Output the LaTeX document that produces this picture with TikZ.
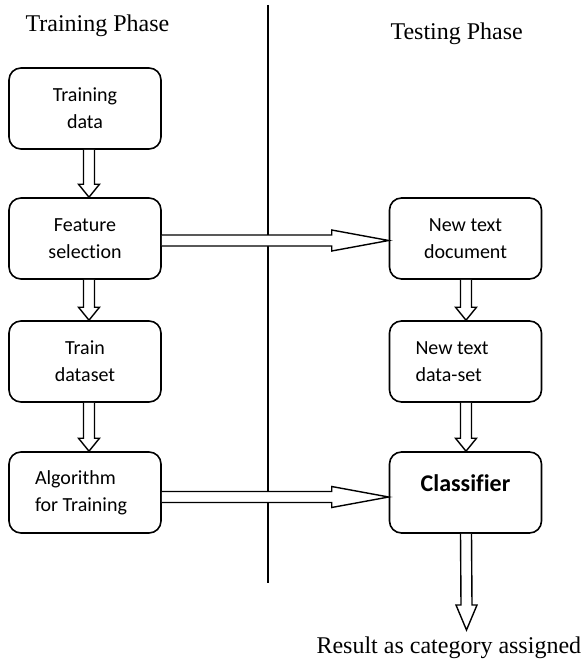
\documentclass[tikz,border=0pt]{standalone}
\usepackage{fontspec}
\setmainfont{Liberation Serif}
\newfontfamily\boxfont[Ligatures=NoCommon]{Carlito}
\usetikzlibrary{calc}

\tikzset{
  box/.style={draw, line width=1.6pt, rounded corners=12pt, minimum width=152pt, minimum height=81pt,
    font=\boxfont\fontsize{20}{27}\selectfont, align=flush center},
  leftbox/.style={box, text width=100pt, inner xsep=26pt, align=flush left},
  phase/.style={anchor=base west, font=\fontsize{24}{28}\selectfont},
  blockarrow/.style={line width=1.4pt, line join=miter, fill=white}
}

% hollow arrow going down: from, to, x offset, head length
\newcommand{\hollowdown}[4]{%
  \draw[blockarrow] ($(#1.south)+(#3-5.5,0)$) -- ($(#2)+(#3-5.5,-#4)$) -- ($(#2)+(#3-10.5,-#4)$)
    -- ($(#2)+(#3,0)$) -- ($(#2)+(#3+10.5,-#4)$) -- ($(#2)+(#3+5.5,-#4)$) -- ($(#1.south)+(#3+5.5,0)$);
}
% hollow arrow going right: from, to, y offset
\newcommand{\hollowright}[3]{%
  \draw[blockarrow] ($(#1.east)+(0,#3-5.5)$) -- ($(#2.west)+(-57,#3-5.5)$) -- ($(#2.west)+(-57,#3-10.5)$)
    -- ($(#2.west)+(0,#3)$) -- ($(#2.west)+(-57,#3+10.5)$) -- ($(#2.west)+(-57,#3+5.5)$) -- ($(#1.east)+(0,#3+5.5)$);
}

\begin{document}
\begin{tikzpicture}[x=1pt, y=-1pt]
        \useasboundingbox (0,0) rectangle (581,666);

        % Phases
        \node[phase] (train) at (22,32) {Training Phase};
        \node[phase] (test) at (387,40) {Testing Phase};
        \draw[line width=1.5pt] (268,5) -- (268,583);

        % Training side
        \node[box] (tdata) at (85,108.5) {Training\\data};
        \node[box] (feat) at (85,238.5) {Feature\\selection};
        \node[box] (tset) at (85,361.5) {Train\\dataset};
        \node[leftbox] (algo) at (85,492.5) {Algorithm\\for Training};

        % Testing side
        \node[box] (doc) at (465.5,238.5) {New text\\document};
        \node[leftbox] (nset) at (465.5,361.5) {New text\\data-set};
        \node[box, font=\boxfont\bfseries\fontsize{24}{28}\selectfont, text height=12pt, text depth=15pt] (clf) at (465.5,492.5) {Classifier};

        % Output
        \coordinate (result) at (466,630);
        \node[phase] (out) at (313,653) {Result as category assigned};

        % Arrows
        \hollowdown{tdata}{feat.north}{4}{13}
        \hollowdown{feat}{tset.north}{4}{13}
        \hollowdown{tset}{algo.north}{4}{13}
        \hollowdown{doc}{nset.north}{0.5}{13}
        \hollowdown{nset}{clf.north}{0.5}{13}
        \hollowdown{clf}{result}{0.5}{25}
        \hollowright{feat}{doc}{2}
        \hollowright{algo}{clf}{4.5}
\end{tikzpicture}
\end{document}
